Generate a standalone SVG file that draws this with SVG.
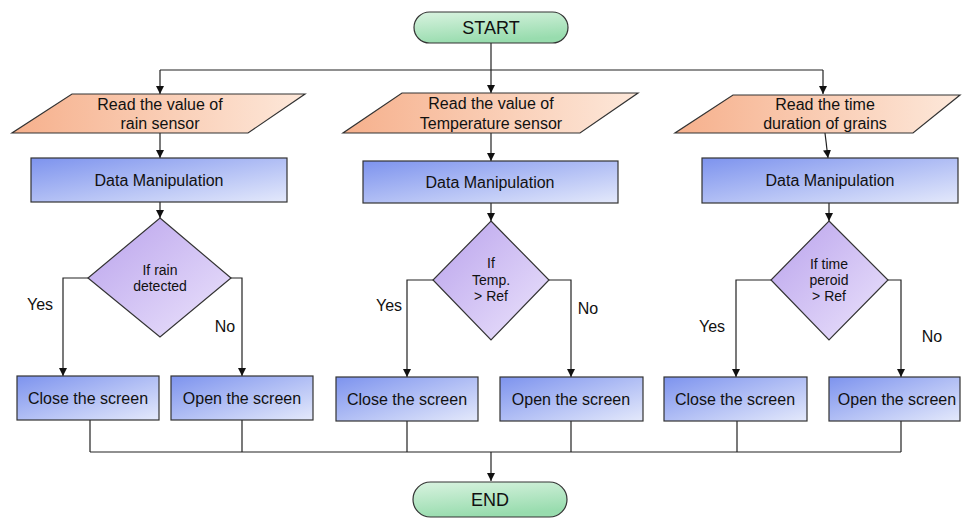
<svg xmlns="http://www.w3.org/2000/svg" width="962" height="520" viewBox="0 0 962 520">
<defs>
<linearGradient id="gPill" x1="0" y1="0" x2="0.3" y2="1"><stop offset="0" stop-color="#d9f3e0"/><stop offset="1" stop-color="#98dcae"/></linearGradient>
<linearGradient id="gPar" x1="0" y1="0" x2="1" y2="0"><stop offset="0" stop-color="#f6b08c"/><stop offset="1" stop-color="#fde8da"/></linearGradient>
<linearGradient id="gBox" x1="0" y1="0" x2="1" y2="1"><stop offset="0" stop-color="#7d93ee"/><stop offset="1" stop-color="#e4e9fb"/></linearGradient>
<linearGradient id="gDia" x1="0" y1="0" x2="1" y2="1"><stop offset="0" stop-color="#b9a2ec"/><stop offset="1" stop-color="#ece4fc"/></linearGradient>
<marker id="ah" viewBox="0 0 10 10" refX="10" refY="5" markerWidth="8" markerHeight="8" markerUnits="userSpaceOnUse" orient="auto"><path d="M0,0 L10,5 L0,10 z" fill="#111"/></marker>
</defs>
<style>
.t{font-family:"Liberation Sans",Arial,sans-serif;font-size:16px;fill:#111;text-anchor:middle}
.s{font-size:14px}
.big{font-size:18px}
.pill{fill:url(#gPill);stroke:#333;stroke-width:1.2}
.par{fill:url(#gPar);stroke:#333;stroke-width:1.2}
.box{fill:url(#gBox);stroke:#333;stroke-width:1.2}
.dia{fill:url(#gDia);stroke:#333;stroke-width:1.2}
.c{fill:none;stroke:#222;stroke-width:1.2}
.a{marker-end:url(#ah)}
</style>
<rect width="962" height="520" fill="#fff"/>

<g id="connectors">
<path class="c" d="M491,43 V70"/>
<path class="c" d="M160,70 H823"/>
<path class="c a" d="M160,70 V94"/>
<path class="c a" d="M491,70 V93"/>
<path class="c a" d="M823,70 V94"/>
<path class="c a" d="M160,133 V158"/>
<path class="c a" d="M491,133 V161"/>
<path class="c a" d="M825,133 L828,158"/>
<path class="c a" d="M160,202 V218"/>
<path class="c a" d="M491,203 V221"/>
<path class="c a" d="M829,203 V221"/>
<path class="c a" d="M88,278 H63 V376"/>
<path class="c a" d="M231,278 H242 V376"/>
<path class="c a" d="M433,280 H407 V377"/>
<path class="c a" d="M549,280 H571 V377"/>
<path class="c a" d="M771,280 H736 V377"/>
<path class="c a" d="M888,280 H901 V377"/>
<path class="c" d="M90,420 V452 M242,420 V452 M407,421 V452 M571,421 V452 M737,421 V452 M901,421 V452"/>
<path class="c" d="M90,452 H901"/>
<path class="c a" d="M491,452 V481"/>
<text class="t" x="40" y="310">Yes</text>
<text class="t" x="225" y="332">No</text>
<text class="t" x="389" y="311">Yes</text>
<text class="t" x="588" y="314">No</text>
<text class="t" x="712" y="332">Yes</text>
<text class="t" x="932" y="342">No</text>
</g>

<g id="start"><rect class="pill" x="414" y="12" width="154" height="31" rx="15.5"/><text class="t big" x="491" y="34">START</text></g>

<g id="read1"><polygon class="par" points="72,94 305,94 248,133 12,133"/><text class="t" x="160" y="110">Read the value of</text><text class="t" x="160" y="129">rain sensor</text></g>
<g id="read2"><polygon class="par" points="402,93 638,93 580,133 343,133"/><text class="t" x="491" y="109">Read the value of</text><text class="t" x="491" y="129">Temperature sensor</text></g>
<g id="read3"><polygon class="par" points="733,95 960,95 913,133 675,133"/><text class="t" x="825" y="110">Read the time</text><text class="t" x="825" y="129">duration of grains</text></g>

<g id="dm1"><rect class="box" x="31" y="158" width="256" height="44"/><text class="t" x="159" y="186">Data Manipulation</text></g>
<g id="dm2"><rect class="box" x="363" y="161" width="255" height="42"/><text class="t" x="490" y="188">Data Manipulation</text></g>
<g id="dm3"><rect class="box" x="702" y="158" width="256" height="45"/><text class="t" x="830" y="186">Data Manipulation</text></g>

<g id="dec1"><polygon class="dia" points="160,218 231,278 160,337 88,278"/><text class="t s" x="160" y="275">If rain</text><text class="t s" x="160" y="291">detected</text></g>
<g id="dec2"><polygon class="dia" points="491,221 549,280 491,340 433,280"/><text class="t s" x="491" y="268">If</text><text class="t s" x="491" y="285">Temp.</text><text class="t s" x="491" y="301">&gt; Ref</text></g>
<g id="dec3"><polygon class="dia" points="829,221 888,280 829,340 771,280"/><text class="t s" x="829" y="269">If time</text><text class="t s" x="829" y="285">peroid</text><text class="t s" x="829" y="301">&gt; Ref</text></g>

<g id="close1"><rect class="box" x="17" y="376" width="142" height="44"/><text class="t" x="88" y="404">Close the screen</text></g>
<g id="open1"><rect class="box" x="171" y="376" width="142" height="44"/><text class="t" x="242" y="404">Open the screen</text></g>
<g id="close2"><rect class="box" x="336" y="377" width="142" height="44"/><text class="t" x="407" y="405">Close the screen</text></g>
<g id="open2"><rect class="box" x="500" y="377" width="143" height="44"/><text class="t" x="571" y="405">Open the screen</text></g>
<g id="close3"><rect class="box" x="664" y="377" width="143" height="44"/><text class="t" x="735" y="405">Close the screen</text></g>
<g id="open3"><rect class="box" x="829" y="377" width="131" height="44"/><text class="t" x="897" y="405">Open the screen</text></g>

<g id="end"><rect class="pill" x="413" y="482" width="154" height="35" rx="17.5"/><text class="t big" x="490" y="506">END</text></g>
</svg>
